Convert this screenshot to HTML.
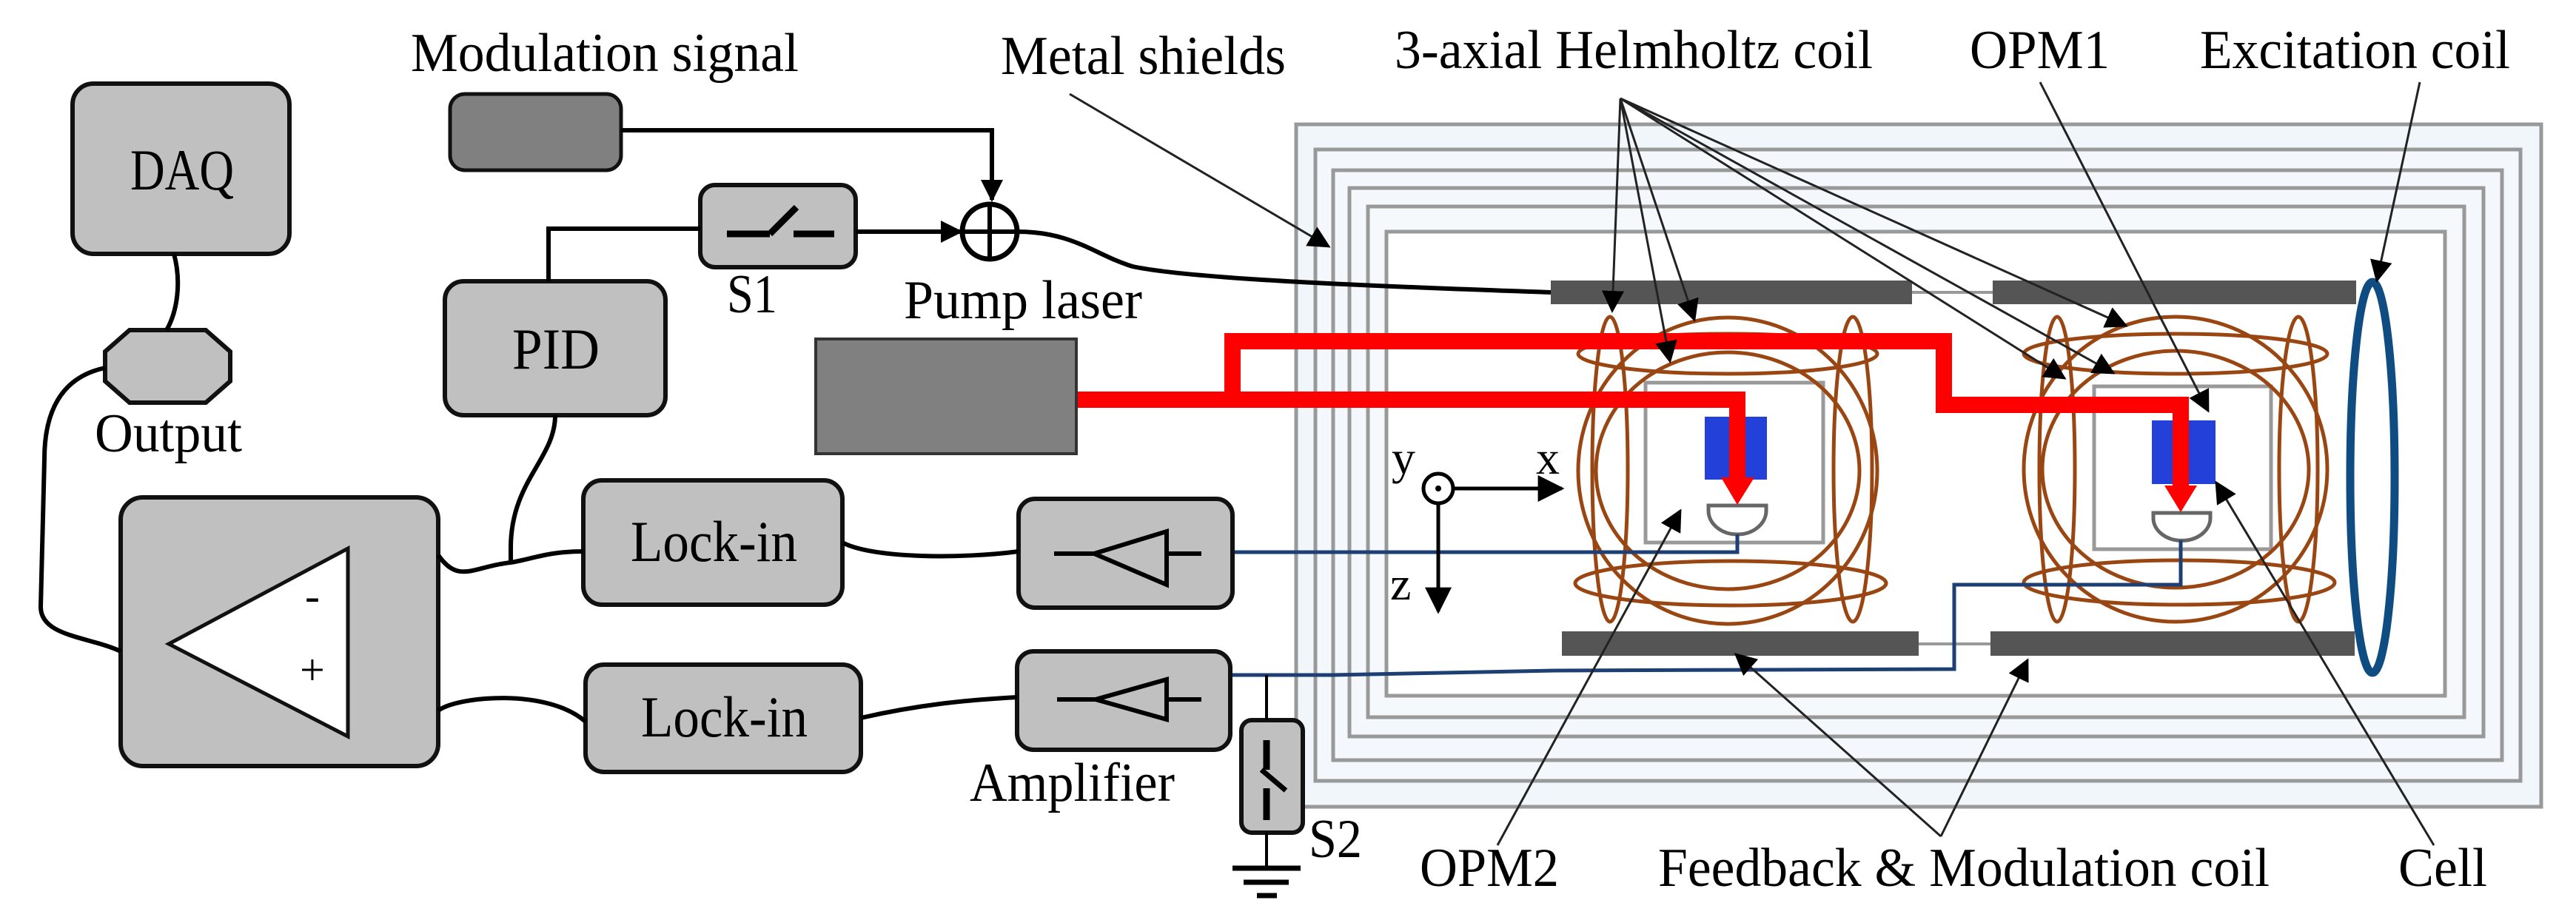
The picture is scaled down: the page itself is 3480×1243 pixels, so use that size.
<!DOCTYPE html>
<html><head><meta charset="utf-8"><style>html,body{margin:0;padding:0;background:#fff}svg{display:block}</style></head>
<body>
<svg xmlns="http://www.w3.org/2000/svg" width="3480" height="1243" viewBox="0 0 3480 1243" style="font-family:'Liberation Serif',serif" font-size="70" fill="#000">
<defs>
<marker id="ah2" viewBox="0 0 10 10" refX="9" refY="5" markerWidth="30" markerHeight="30" markerUnits="userSpaceOnUse" orient="auto"><path d="M0,0L10,5L0,10z" fill="#000"/></marker>
<marker id="ahb" viewBox="0 0 10 10" refX="9" refY="5" markerWidth="36" markerHeight="36" markerUnits="userSpaceOnUse" orient="auto"><path d="M0,0L10,5L0,10z" fill="#000"/></marker>
</defs>

<!-- shields -->
<rect x="1751" y="168" width="1682" height="922" fill="#f1f6fb" stroke="#999" stroke-width="5"/>
<rect x="1777" y="202" width="1628" height="853" fill="#f4f8fc" stroke="#999" stroke-width="5"/>
<rect x="1801" y="230" width="1579" height="797" fill="#f4f8fc" stroke="#999" stroke-width="5"/>
<rect x="1823" y="254" width="1532" height="741" fill="#f4f8fc" stroke="#999" stroke-width="5"/>
<rect x="1848" y="279" width="1481" height="690" fill="#f6f9fc" stroke="#999" stroke-width="5"/>
<rect x="1873" y="313" width="1430" height="627" fill="#fff" stroke="#999" stroke-width="5"/>

<!-- bars -->
<rect x="2095" y="379" width="488" height="32" fill="#555"/>
<rect x="2692" y="379" width="491" height="32" fill="#555"/>
<rect x="2110" y="853" width="482" height="33" fill="#555"/>
<rect x="2689" y="853" width="492" height="33" fill="#555"/>
<line x1="2583" y1="395" x2="2692" y2="395" stroke="#999" stroke-width="4"/>
<line x1="2592" y1="870" x2="2689" y2="870" stroke="#999" stroke-width="4"/>

<!-- inner squares -->
<rect x="2223" y="517" width="240" height="216" fill="none" stroke="#999" stroke-width="5"/>
<rect x="2829" y="522" width="239" height="220" fill="none" stroke="#999" stroke-width="5"/>

<!-- coils -->
<g fill="none" stroke="#9a4612" stroke-width="5">
<ellipse cx="2334" cy="636" rx="202" ry="207"/>
<ellipse cx="2334" cy="636" rx="178" ry="160"/>
<ellipse cx="2175" cy="634" rx="24" ry="206"/>
<ellipse cx="2503" cy="634" rx="26" ry="206"/>
<ellipse cx="2334" cy="478" rx="202" ry="27"/>
<ellipse cx="2338" cy="788" rx="210" ry="30"/>
<ellipse cx="2939" cy="634" rx="205" ry="206"/>
<ellipse cx="2939" cy="634" rx="180" ry="160"/>
<ellipse cx="2779" cy="634" rx="24" ry="206"/>
<ellipse cx="3105" cy="634" rx="26" ry="206"/>
<ellipse cx="2939" cy="478" rx="205" ry="27"/>
<ellipse cx="2944" cy="787" rx="210" ry="30"/>
</g>

<!-- cells -->
<rect x="2303" y="563" width="84" height="85" fill="#2340d8"/>
<rect x="2907" y="568" width="86" height="86" fill="#2340d8"/>
<!-- detectors -->
<path d="M2308,683 L2386,683 L2386,690 A39,32 0 0 1 2308,690 Z" fill="#fff" stroke="#666" stroke-width="5"/>
<path d="M2909,693 L2986,693 L2986,700 A38,30 0 0 1 2909,700 Z" fill="#fff" stroke="#666" stroke-width="5"/>

<!-- excitation coil -->
<ellipse cx="3205" cy="645" rx="30" ry="264" fill="none" stroke="#0f4c81" stroke-width="11"/>

<!-- red beams -->
<g fill="none" stroke="#ff0000" stroke-width="22">
<path d="M1454,540 L2347,540 L2347,650"/>
<path d="M1665,540 L1665,461 L2626,461 L2626,547 L2946,547 L2946,660"/>
</g>
<path d="M2325,645 L2370,645 L2347,682z" fill="#ff0000"/>
<path d="M2924,656 L2968,656 L2946,692z" fill="#ff0000"/>

<!-- blue wires -->
<g fill="none" stroke="#1d3f73" stroke-width="5">
<path d="M1665,746 L2347,746 L2347,722"/>
<path d="M1662,912 L1800,912 L2100,906 L2640,904 L2640,790 L2946,790 L2946,730"/>
</g>

<!-- axes -->
<circle cx="1943" cy="660" r="20" fill="#fff" stroke="#000" stroke-width="5"/>
<circle cx="1943" cy="660" r="4"/>
<line x1="1963" y1="660" x2="2110" y2="660" stroke="#000" stroke-width="5" marker-end="url(#ahb)"/>
<line x1="1943" y1="680" x2="1943" y2="826" stroke="#000" stroke-width="5" marker-end="url(#ahb)"/>
<text x="1880" y="640" font-size="64">y</text>
<text x="2075" y="640" font-size="64">x</text>
<text x="1878" y="810" font-size="64">z</text>

<!-- left blocks -->
<g fill="#c0c0c0" stroke="#111" stroke-width="6">
<rect x="98" y="113" width="293" height="230" rx="28"/>
<polygon points="175,446 278,446 311,475 311,515 278,544 175,544 142,515 142,475"/>
<rect x="163" y="672" width="429" height="363" rx="30"/>
<rect x="601" y="380" width="298" height="181" rx="25"/>
<rect x="946" y="250" width="210" height="111" rx="20"/>
<rect x="788" y="649" width="350" height="168" rx="25"/>
<rect x="791" y="898" width="372" height="145" rx="25"/>
<rect x="1376" y="674" width="289" height="147" rx="22"/>
<rect x="1374" y="880" width="288" height="133" rx="22"/>
<rect x="1677" y="973" width="83" height="152" rx="14"/>
</g>
<rect x="608" y="127" width="231" height="103" rx="20" fill="#808080" stroke="#111" stroke-width="5"/>
<rect x="1102" y="458" width="352" height="155" fill="#808080" stroke="#333" stroke-width="4"/>

<!-- op-amp triangle -->
<polygon points="228,870 470,741 470,995" fill="#fff" stroke="#111" stroke-width="5"/>
<text x="412" y="825" font-size="60">-</text>
<text x="405" y="925" font-size="60">+</text>

<!-- amp symbols -->
<g stroke="#000" stroke-width="6" fill="none">
<line x1="1424" y1="748" x2="1478" y2="748"/><polygon points="1478,748 1576,718 1576,790"/><line x1="1576" y1="748" x2="1623" y2="748"/>
<line x1="1428" y1="945" x2="1480" y2="945"/><polygon points="1480,945 1576,918 1576,972"/><line x1="1576" y1="945" x2="1623" y2="945"/>
<line x1="982" y1="316" x2="1040" y2="316" stroke-width="9"/><line x1="1040" y1="316" x2="1076" y2="280" stroke-width="9"/><line x1="1072" y1="316" x2="1127" y2="316" stroke-width="9"/>
<line x1="1711" y1="1000" x2="1711" y2="1040" stroke-width="9"/><line x1="1704" y1="1040" x2="1737" y2="1068" stroke-width="7"/><line x1="1711" y1="1065" x2="1711" y2="1108" stroke-width="9"/>
</g>

<!-- sum junction -->
<circle cx="1337" cy="313" r="37" fill="#fff" stroke="#000" stroke-width="7"/>
<line x1="1300" y1="313" x2="1374" y2="313" stroke="#000" stroke-width="6"/>
<line x1="1337" y1="276" x2="1337" y2="350" stroke="#000" stroke-width="6"/>

<!-- black wires -->
<g fill="none" stroke="#000" stroke-width="6">
<path d="M839,176 L1340,176 L1340,270" marker-end="url(#ah2)"/>
<path d="M1156,313 L1298,313" marker-end="url(#ah2)"/>
<path d="M741,380 L741,309 L946,309"/>
<path d="M1374,313 C1450,313 1480,345 1530,360 C1600,375 1800,385 2095,395"/>
<path d="M235,343 C245,380 240,420 225,446"/>
<path d="M142,497 C80,510 60,560 60,620 L55,820 C55,860 120,860 163,880"/>
<path d="M750,561 C750,620 690,650 690,740 L690,760"/>
<path d="M592,750 C620,790 640,765 690,760 C720,755 740,745 788,745"/>
<path d="M1138,733 C1180,755 1300,755 1376,745"/>
<path d="M592,960 C620,940 740,930 791,975"/>
<path d="M1163,970 C1250,950 1320,945 1374,942"/>
<path d="M1711,912 L1711,973 M1711,1125 L1711,1173" stroke-width="4"/>
<path d="M1665,1173 L1757,1173 M1680,1192 L1741,1192 M1698,1210 L1725,1210" stroke-width="7"/>
</g>

<!-- annotation lines -->
<g fill="none" stroke="#222" stroke-width="3" marker-end="url(#ah2)">
<line x1="1445" y1="127" x2="1795" y2="333"/>
<line x1="2189" y1="133" x2="2178" y2="420"/>
<line x1="2189" y1="133" x2="2256" y2="488"/>
<line x1="2189" y1="133" x2="2289" y2="432"/>
<line x1="2189" y1="133" x2="2872" y2="440"/>
<line x1="2189" y1="133" x2="2855" y2="504"/>
<line x1="2189" y1="133" x2="2789" y2="511"/>
<line x1="2756" y1="111" x2="2983" y2="555"/>
<line x1="3269" y1="111" x2="3211" y2="379"/>
<line x1="2023" y1="1142" x2="2270" y2="690"/>
<line x1="2622" y1="1130" x2="2345" y2="884"/>
<line x1="2622" y1="1130" x2="2739" y2="892"/>
<line x1="3288" y1="1142" x2="2994" y2="652"/>
</g>

<!-- labels -->
<g font-size="74">
<text x="555" y="96" textLength="524" lengthAdjust="spacingAndGlyphs">Modulation signal</text>
<text x="1352" y="100" textLength="385" lengthAdjust="spacingAndGlyphs">Metal shields</text>
<text x="1884" y="92" textLength="646" lengthAdjust="spacingAndGlyphs">3-axial Helmholtz coil</text>
<text x="2661" y="92" textLength="189" lengthAdjust="spacingAndGlyphs">OPM1</text>
<text x="2972" y="92" textLength="419" lengthAdjust="spacingAndGlyphs">Excitation coil</text>
<text x="176" y="256" font-size="78" textLength="140" lengthAdjust="spacingAndGlyphs">DAQ</text>
<text x="128" y="610" textLength="199" lengthAdjust="spacingAndGlyphs">Output</text>
<text x="692" y="498" font-size="78" textLength="118" lengthAdjust="spacingAndGlyphs">PID</text>
<text x="982" y="422" textLength="68" lengthAdjust="spacingAndGlyphs">S1</text>
<text x="1221" y="430" textLength="322" lengthAdjust="spacingAndGlyphs">Pump laser</text>
<text x="852" y="758" font-size="78" textLength="225" lengthAdjust="spacingAndGlyphs">Lock-in</text>
<text x="866" y="995" font-size="78" textLength="225" lengthAdjust="spacingAndGlyphs">Lock-in</text>
<text x="1310" y="1082" textLength="277" lengthAdjust="spacingAndGlyphs">Amplifier</text>
<text x="1768" y="1158" textLength="72" lengthAdjust="spacingAndGlyphs">S2</text>
<text x="1918" y="1197" textLength="188" lengthAdjust="spacingAndGlyphs">OPM2</text>
<text x="2240" y="1197" textLength="826" lengthAdjust="spacingAndGlyphs">Feedback &amp; Modulation coil</text>
<text x="3240" y="1197" textLength="120" lengthAdjust="spacingAndGlyphs">Cell</text>
</g>
</svg>
</body></html>
